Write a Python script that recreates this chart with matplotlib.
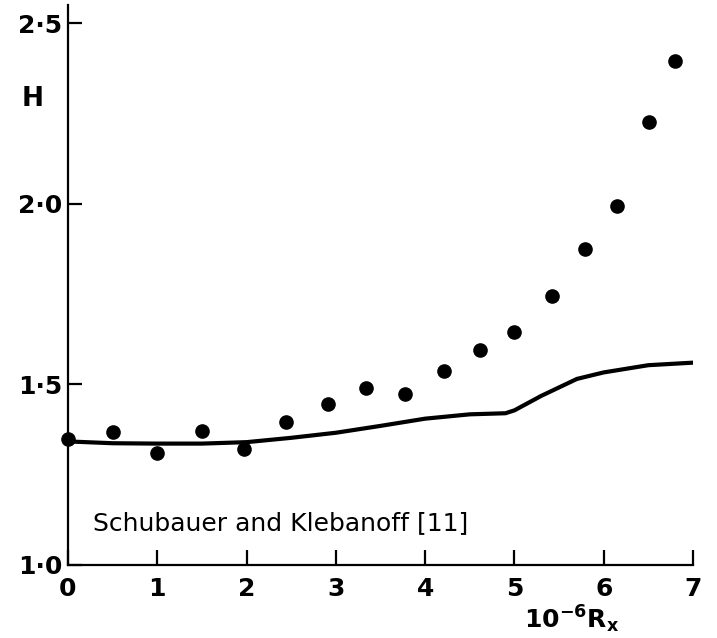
import matplotlib
matplotlib.use("Agg")
import matplotlib.pyplot as plt

# Measured shape factor H against Reynolds number (10^-6 R_x)
rx_points = [0.0, 0.5, 1.0, 1.5, 1.97, 2.44, 2.91, 3.34, 3.78, 4.21, 4.61, 5.0,
             5.42, 5.79, 6.15, 6.51, 6.80]
h_points = [1.35, 1.368, 1.31, 1.371, 1.321, 1.396, 1.446, 1.49, 1.474, 1.537,
            1.596, 1.645, 1.745, 1.875, 1.994, 2.227, 2.396]

# Calculated curve
rx_curve = [0.0, 0.5, 1.0, 1.5, 2.0, 2.5, 3.0, 3.5, 4.0, 4.5, 4.9, 5.0, 5.3,
            5.7, 6.0, 6.5, 7.0]
h_curve = [1.342, 1.337, 1.336, 1.336, 1.340, 1.352, 1.366, 1.385, 1.405, 1.417,
           1.420, 1.428, 1.468, 1.515, 1.533, 1.553, 1.560]

x_ticks = [0, 1, 2, 3, 4, 5, 6, 7]
x_tick_labels = ["0", "1", "2", "3", "4", "5", "6", "7"]
y_ticks = [1.0, 1.5, 2.0, 2.5]
y_tick_labels = ["1·0", "1·5", "2·0", "2·5"]

fig = plt.figure(figsize=(7.17, 6.38), dpi=100)
ax = fig.add_axes([68 / 717, 1 - 565 / 638, 625 / 717, 560 / 638])

ax.plot(rx_curve, h_curve, color="black", lw=3.0, solid_capstyle="round",
        zorder=2)
ax.plot(rx_points, h_points, "o", color="black", ms=9.5, clip_on=False,
        zorder=3)

ax.set_xlim(0, 7)
ax.set_ylim(1.0, 2.5 + 18 / 361)

for side in ("top", "right"):
    ax.spines[side].set_visible(False)
for side in ("left", "bottom"):
    ax.spines[side].set_linewidth(1.6)

ax.set_xticks(x_ticks)
ax.set_xticklabels(x_tick_labels)
ax.set_yticks(y_ticks)
ax.set_yticklabels(y_tick_labels)
ax.tick_params(axis="x", direction="in", length=11, width=1.6, pad=9,
               labelsize=18)
ax.tick_params(axis="y", direction="in", length=10, width=1.6, pad=4,
               labelsize=18)
for lab in ax.get_xticklabels() + ax.get_yticklabels():
    lab.set_fontweight("bold")

fig.text(33 / 717, 1 - 99 / 638, "H", fontsize=19, fontweight="bold",
         ha="center", va="center")
fig.text(572 / 717, 1 - 628 / 638, r"10$^{\mathregular{-6}}$R$_{\mathregular{x}}$",
         fontsize=18, fontweight="bold", ha="center", va="baseline")
ax.text(2.385, 1.116, "Schubauer and Klebanoff [11]", fontsize=18,
        ha="center", va="center")

fig.savefig("out.png", dpi=100)
